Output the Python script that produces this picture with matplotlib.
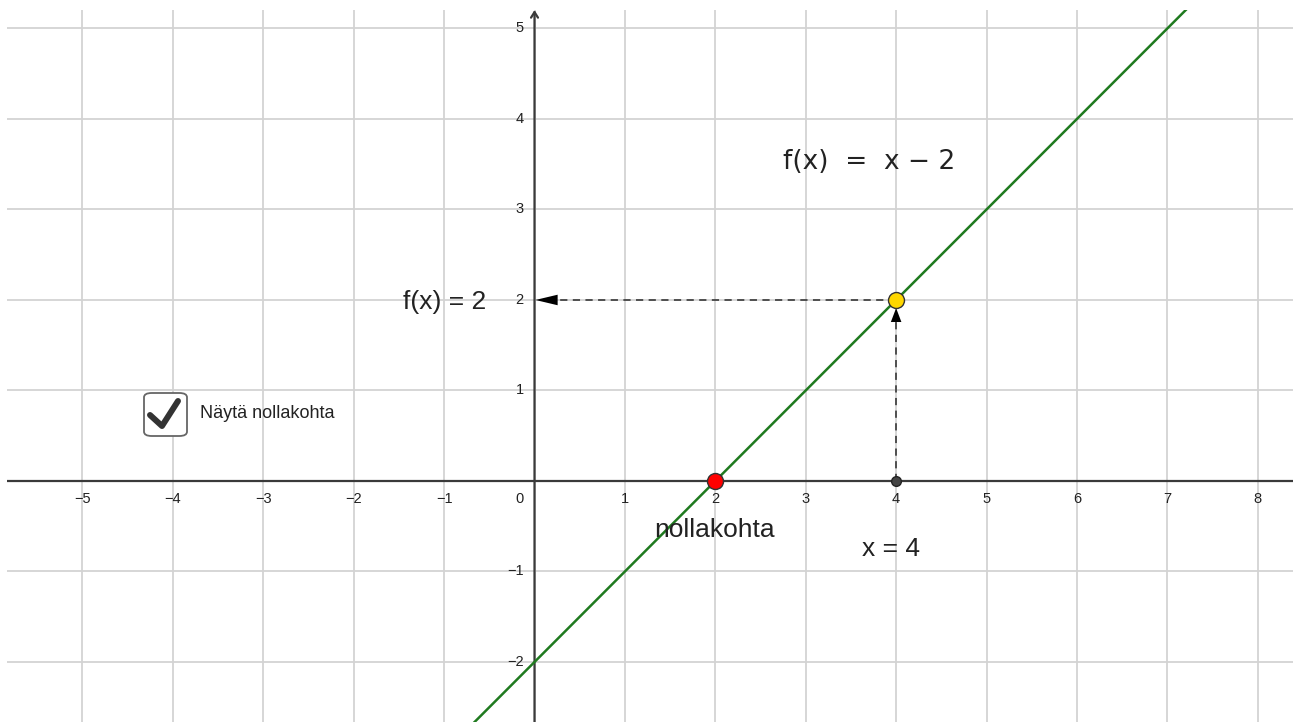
import matplotlib.pyplot as plt
from matplotlib.patches import FancyBboxPatch
import numpy as np

# function f(x) = x - 2
slope = 1.0
intercept = -2.0
x_zero = 2.0
x_sample = 4.0

x_ticks = [-5, -4, -3, -2, -1, 1, 2, 3, 4, 5, 6, 7, 8]
y_ticks = [-2, -1, 1, 2, 3, 4, 5]

W, H = 1294, 722
xlim = (-5.835, 8.39)
ylim = (-2.663, 5.204)


def f(x):
    return slope * x + intercept


def px(x, y):
    # pixel -> figure fraction
    return x / W, 1 - y / H


fig = plt.figure(figsize=(W / 100, H / 100), dpi=100)
ax = fig.add_axes([7 / W, 0, (1293 - 7) / W, (H - 10) / H])
ax.set_xlim(*xlim)
ax.set_ylim(*ylim)
ax.axis("off")

grid_c = "#d3d3d3"
axis_c = "#3a3a3a"
for gx in range(int(np.ceil(xlim[0])), int(np.floor(xlim[1])) + 1):
    ax.axvline(gx, color=grid_c, lw=1.3, zorder=0)
for gy in range(int(np.ceil(ylim[0])), int(np.floor(ylim[1])) + 1):
    ax.axhline(gy, color=grid_c, lw=1.3, zorder=0)

# axes
ax.axhline(0, color=axis_c, lw=1.6, zorder=1)
ax.annotate("", xy=(0, ylim[1]), xytext=(0, ylim[0]),
            arrowprops=dict(arrowstyle="->,head_length=0.4,head_width=0.25",
                            color=axis_c, lw=1.6, shrinkA=0, shrinkB=0), zorder=1,
            annotation_clip=False)

tick_font = dict(family="Liberation Sans", fontsize=10.5, color="#222222")
for t in x_ticks:
    ax.text(t, -0.2, "\u2212%d" % -t if t < 0 else str(t), ha="center", va="center", **tick_font)
for t in y_ticks:
    ax.text(-0.12, t, "\u2212%d" % -t if t < 0 else str(t), ha="right", va="center", **tick_font)
ax.text(-0.12, -0.2, "0", ha="right", va="center", **tick_font)

# graph of f
xs = np.array(xlim)
ax.plot(xs, f(xs), color="#1f7a1f", lw=1.8, zorder=3)

# dashed helper lines with arrow heads
dash_c = "#444444"
ax.plot([x_sample, x_sample], [0, f(x_sample) - 0.15], color=dash_c, lw=1.3,
        ls=(0, (4, 3)), zorder=2)
ax.plot([x_sample, 0.2], [f(x_sample), f(x_sample)], color=dash_c, lw=1.3,
        ls=(0, (4, 3)), zorder=2)
ax.annotate("", xy=(x_sample, f(x_sample) - 0.09), xytext=(x_sample, f(x_sample) - 0.35),
            arrowprops=dict(arrowstyle="-|>,head_length=1.0,head_width=0.38",
                            color="black", lw=0, shrinkA=0, shrinkB=0), zorder=4)
ax.annotate("", xy=(0.01, f(x_sample)), xytext=(0.4, f(x_sample)),
            arrowprops=dict(arrowstyle="-|>,head_length=1.6,head_width=0.38",
                            color="black", lw=0, shrinkA=0, shrinkB=0), zorder=4)

# points
ax.plot(x_sample, 0, "o", ms=7, color="#444444", mec="#222222", mew=1, zorder=5)
ax.plot(x_zero, 0, "o", ms=11.5, color="#ff0000", mec="#333333", mew=1, zorder=5)
ax.plot(x_sample, f(x_sample), "o", ms=11.5, color="#ffd700", mec="#333333", mew=1, zorder=5)

# labels
ft = fig.transFigure
lab_font = dict(family="Liberation Sans", fontsize=19, color="#222222")
ax.text(*px(783, 162), "f(x)  =  x \u2212 2", transform=ft, ha="left", va="center",
        family="DejaVu Sans", fontsize=19, color="#222222")
ax.text(*px(486, 302), "f(x) = 2", transform=ft, ha="right", va="center", **lab_font)
ax.text(*px(715, 530), "nollakohta", transform=ft, ha="center", va="center", **lab_font)
ax.text(*px(891, 549), "x = 4", transform=ft, ha="center", va="center", **lab_font)

# checkbox
bx0, by0 = px(144, 436)
bx1, by1 = px(187, 393)
box = FancyBboxPatch((bx0, by0), bx1 - bx0, by1 - by0,
                     boxstyle="round,pad=0,rounding_size=0.006", transform=ft,
                     fc="white", ec="#666666", lw=1.3, zorder=5)
ax.add_patch(box)
cx, cy = zip(px(150, 415), px(162, 426), px(178, 401))
ax.plot(cx, cy, color="#333333", lw=4.3, solid_capstyle="round", solid_joinstyle="round",
        transform=ft, zorder=6)
ax.text(*px(200, 413), "Näytä nollakohta", transform=ft, ha="left", va="center",
        family="Liberation Sans", fontsize=13, color="#222222")

fig.savefig("out.png", dpi=100)
